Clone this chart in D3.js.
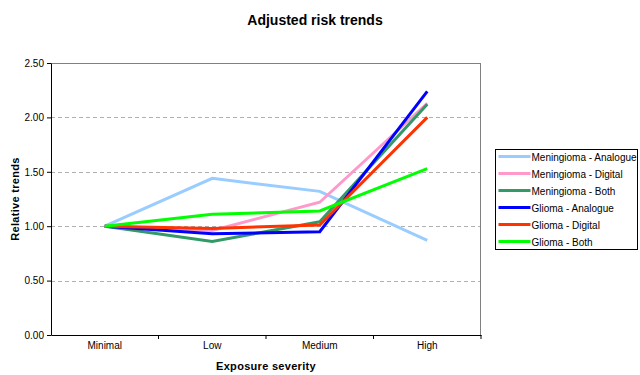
<!DOCTYPE html>
<html>
<head>
<meta charset="utf-8">
<script src="https://cdn.jsdelivr.net/npm/d3@7"></script>
<style>
  body { margin: 0; background: #fff; }
  svg { font-family: Arial, "Liberation Sans", sans-serif; }
</style>
</head>
<body>
<div id="chart"></div>
<script>
var categories = ["Minimal", "Low", "Medium", "High"];
var seriesNames = ["Meningioma - Analogue", "Meningioma - Digital", "Meningioma - Both",
                   "Glioma - Analogue", "Glioma - Digital", "Glioma - Both"];
var meningiomaAnalogue = [1.00, 1.44, 1.32, 0.87];
var meningiomaDigital  = [1.00, 0.96, 1.22, 2.13];
var meningiomaBoth     = [1.00, 0.86, 1.04, 2.12];
var gliomaAnalogue     = [1.00, 0.93, 0.95, 2.24];
var gliomaDigital      = [1.00, 0.98, 1.01, 2.00];
var gliomaBoth         = [1.00, 1.11, 1.14, 1.53];
var yTicks = [0, 0.5, 1, 1.5, 2, 2.5];
var colors = ["#99ccff", "#ff99cc", "#339966", "#0000ff", "#ff3300", "#00ff00"];

var series = [meningiomaAnalogue, meningiomaDigital, meningiomaBoth,
              gliomaAnalogue, gliomaDigital, gliomaBoth].map(function (vals, i) {
    return { name: seriesNames[i], color: colors[i], values: vals };
});

var width = 640, height = 375;
var margin = { top: 63, right: 159, bottom: 40, left: 51 };
var w = width - margin.left - margin.right,
    h = height - margin.top - margin.bottom;

var svg = d3.select("#chart").append("svg")
    .attr("width", width).attr("height", height);

var x = d3.scaleBand().domain(categories).range([0, w]);
var y = d3.scaleLinear().domain([0, 2.5]).range([h, 0]);

var g = svg.append("g")
    .attr("transform", "translate(" + margin.left + "," + margin.top + ")");

// title
svg.append("text")
    .attr("x", 315).attr("y", 25)
    .attr("text-anchor", "middle")
    .style("font-size", "14px").style("font-weight", "bold")
    .text("Adjusted risk trends");

// gridlines
g.selectAll(".grid").data(yTicks.filter(function (d) { return d > 0 && d < 2.5; }))
    .enter().append("line")
    .attr("x1", 0).attr("x2", w)
    .attr("y1", function (d) { return Math.round(y(d)) + 0.5; })
    .attr("y2", function (d) { return Math.round(y(d)) + 0.5; })
    .style("stroke", "#b0b0b0").style("stroke-dasharray", "4,3")
    .style("shape-rendering", "crispEdges");

// plot border top/right
g.append("path")
    .attr("d", "M0,0.5H" + (w - 0.5) + "V" + h)
    .style("fill", "none").style("stroke", "#808080")
    .style("shape-rendering", "crispEdges");

// axes
var yAxis = g.append("g")
    .call(d3.axisLeft(y).tickValues(yTicks).tickFormat(d3.format(".2f")).tickSize(4).tickSizeOuter(0));
var xAxis = g.append("g")
    .attr("transform", "translate(0," + h + ")")
    .call(d3.axisBottom(x).tickSize(0).tickSizeOuter(0));

[yAxis, xAxis].forEach(function (ax) {
    ax.selectAll(".domain").style("stroke", "#000");
    ax.selectAll("line").style("stroke", "#000");
    ax.selectAll("text").style("font-size", "10px")
        .style("font-family", "Arial, 'Liberation Sans', sans-serif").style("fill", "#000");
});
xAxis.selectAll("text").attr("dy", "1.1em");

// x category tick marks at boundaries
g.append("g").selectAll("line")
    .data(categories.slice(1).concat(["end"]))
    .enter().append("line")
    .attr("x1", function (d, i) { return x(categories[0]) + x.bandwidth() * (i + 1); })
    .attr("x2", function (d, i) { return x(categories[0]) + x.bandwidth() * (i + 1); })
    .attr("y1", h).attr("y2", h + 4)
    .style("stroke", "#000");

// axis labels
svg.append("text")
    .attr("transform", "translate(19," + (margin.top + h / 2) + ") rotate(-90)")
    .attr("text-anchor", "middle")
    .style("font-size", "11px").style("font-weight", "bold")
    .style("letter-spacing", "0.3px")
    .text("Relative trends");
svg.append("text")
    .attr("x", margin.left + w / 2).attr("y", 370)
    .attr("text-anchor", "middle")
    .style("font-size", "11px").style("font-weight", "bold")
    .style("letter-spacing", "0.3px")
    .text("Exposure severity");

// lines
var line = d3.line()
    .x(function (d, i) { return x(categories[i]) + x.bandwidth() / 2; })
    .y(function (d) { return y(d); });

g.selectAll(".series").data(series)
    .enter().append("path")
    .attr("d", function (d) { return line(d.values); })
    .style("fill", "none")
    .style("stroke", function (d) { return d.color; })
    .style("stroke-width", 3);

// legend
var legend = svg.append("g").attr("transform", "translate(495.5,149.5)");
legend.append("rect")
    .attr("width", 142).attr("height", 100)
    .style("fill", "#fff").style("stroke", "#000");
var items = legend.selectAll(".item").data(series).enter().append("g")
    .attr("transform", function (d, i) { return "translate(0," + (7 + i * 17) + ")"; });
items.append("line")
    .attr("x1", 3).attr("x2", 35).attr("y1", 0).attr("y2", 0)
    .style("stroke", function (d) { return d.color; }).style("stroke-width", 3);
items.append("text")
    .attr("x", 36).attr("y", 4)
    .style("font-size", "10px")
    .text(function (d) { return d.name; });
</script>
</body>
</html>
